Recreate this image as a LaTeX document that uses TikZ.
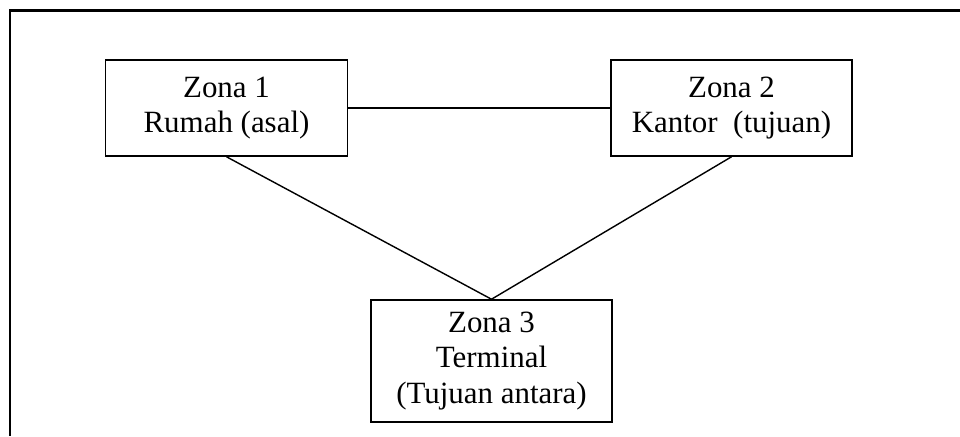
\documentclass[tikz,border=0pt]{standalone}
\usepackage{fontspec}
\setmainfont{Liberation Serif}
\usepackage{tikz}

\begin{document}
\begin{tikzpicture}[x=0.025cm, y=-0.025cm,
    zone/.style={draw=black, line width=1.1pt, align=center, inner sep=0pt, font=\fontsize{22}{25}\selectfont},
    link/.style={draw=black, line width=1pt}]
      \useasboundingbox (0,0) rectangle (960,436);
      \draw[line width=1.5pt] (960,10.5) -- (10,10.5) -- (10,436);
      \node[zone, minimum width=242*0.025cm, minimum height=96*0.025cm] (zona1) at (226.5,108) {Zona 1\\Rumah (asal)};
      \node[zone, minimum width=241*0.025cm, minimum height=96*0.025cm] (zona2) at (731.5,108) {Zona 2\\Kantor\ \ (tujuan)};
      \node[zone, minimum width=241*0.025cm, minimum height=122*0.025cm] (zona3) at (491.5,361) {Zona 3\\Terminal\\(Tujuan antara)};
      \draw[link] (zona1) -- (zona2);
      \draw[link] (zona1.south) -- (zona3.north);
      \draw[link] (zona2.south) -- (zona3.north);
    \end{tikzpicture}
\end{document}
